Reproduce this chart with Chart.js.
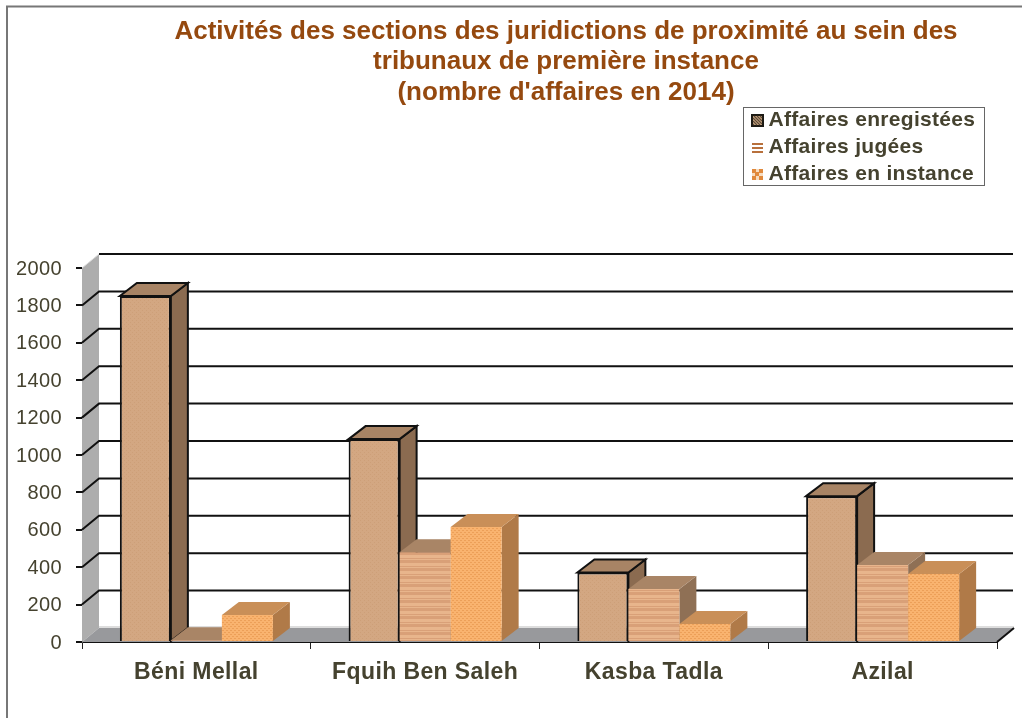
<!DOCTYPE html>
<html><head><meta charset="utf-8">
<style>html,body{margin:0;padding:0;background:#fff}#w{width:1022px;height:718px;position:relative}</style>
<script src="https://cdn.jsdelivr.net/npm/chart.js@4"></script>
</head><body><div id="w"><canvas id="c"></canvas></div>
<script>
const categories = ["Béni Mellal", "Fquih Ben Saleh", "Kasba Tadla", "Azilal"];
const enregistrees = [1850, 1085, 372, 780];
const jugees = [10, 480, 283, 412];
const enInstance = [144, 615, 96, 364];
const seriesNames = ["Affaires enregistées", "Affaires jugées", "Affaires en instance"];
const yTicks = [0, 200, 400, 600, 800, 1000, 1200, 1400, 1600, 1800, 2000];
const titleLines = ["Activités des sections des juridictions de proximité au sein des", "tribunaux de première instance", "(nombre d'affaires en 2014)"];

const FONT = "'Liberation Sans', Arial, sans-serif";
const DX = 17, DY = 14, BAR_DY = 13;

function tile(w, h, draw) {
  const c = document.createElement('canvas'); c.width = w; c.height = h;
  draw(c.getContext('2d')); return c;
}
const ctxMain = document.getElementById('c').getContext('2d');
const fill0 = ctxMain.createPattern(tile(4, 4, g => {
  g.fillStyle = '#d3a782'; g.fillRect(0, 0, 4, 4);
  g.fillStyle = '#cd9f78'; g.fillRect(0, 0, 1, 1); g.fillRect(2, 2, 1, 1);
}), 'repeat');
const fill1 = ctxMain.createPattern(tile(2, 8, g => {
  g.fillStyle = '#e8b58c'; g.fillRect(0, 0, 2, 8);
  g.fillStyle = '#d9a078'; g.fillRect(0, 0, 2, 3); g.fillRect(0, 6, 2, 1);
}), 'repeat');
const fill2 = ctxMain.createPattern(tile(4, 4, g => {
  g.fillStyle = '#f9b36f'; g.fillRect(0, 0, 4, 4);
  g.fillStyle = '#ec9f58'; g.fillRect(0, 0, 2, 1); g.fillRect(2, 2, 2, 1);
}), 'repeat');

const marker0 = tile(13, 13, g => {
  g.fillStyle = '#1c1a14'; g.fillRect(0, 0, 13, 13);
  g.fillStyle = '#d6b08a'; g.fillRect(2, 2, 9, 9);
  g.strokeStyle = '#5c4a38'; g.lineWidth = 1.2;
  for (let i = -8; i < 10; i += 3) { g.beginPath(); g.moveTo(2 + Math.max(i,0), 2 + Math.max(-i,0)); g.lineTo(11 + Math.min(i,0), 11 - Math.max(i,0)); g.stroke(); }
});
const marker1 = tile(13, 11, g => {
  g.fillStyle = '#b8703c'; g.fillRect(1, 1, 11, 2); g.fillRect(1, 5, 11, 2); g.fillRect(1, 9, 11, 2);
});
const marker2 = tile(13, 13, g => {
  g.fillStyle = '#f6dcc0'; g.fillRect(1, 1, 11, 11);
  g.fillStyle = '#e0893c';
  [[1,1],[8,1],[4,4],[1,8],[8,8]].forEach(p => g.fillRect(p[0], p[1], 4, 4));
});
const markers = [marker0, marker1, marker2];

const faces = [
  { top: '#a88465', side: '#8b6b50', edge: '#111' },
  { top: '#a98566', side: '#8f7055', edge: null },
  { top: '#c98f58', side: '#b07a48', edge: null }
];

function poly(ctx, pts, fill, stroke) {
  ctx.beginPath();
  pts.forEach((p, i) => i ? ctx.lineTo(p[0], p[1]) : ctx.moveTo(p[0], p[1]));
  ctx.closePath();
  if (fill) { ctx.fillStyle = fill; ctx.fill(); }
  if (stroke) { ctx.strokeStyle = stroke; ctx.lineWidth = 2; ctx.lineJoin = 'miter'; ctx.stroke(); }
}

function spaced(obj, method, px, dy) {
  if (obj['_sp_' + method]) return;
  obj['_sp_' + method] = true;
  const orig = obj[method];
  obj[method] = function () {
    const ctx = this.ctx, prev = ctx.letterSpacing;
    ctx.save();
    ctx.letterSpacing = px + 'px';
    if (dy) ctx.translate(0, dy);
    const r = orig.apply(this, arguments);
    ctx.restore();
    ctx.letterSpacing = prev;
    return r;
  };
}

const depthPlugin = {
  id: 'depth',
  afterLayout(chart) {
    const t = chart.titleBlock;
    if (t) { t.left = 110; t.right = 1022; }
    const l = chart.legend;
    if (l) {
      const w = l.right - l.left, h = l.bottom - l.top;
      l.left = 751; l.right = l.left + w; l.top = 104; l.bottom = l.top + h;
      spaced(l, 'draw', 0.3);
    }
    spaced(chart.scales.x, 'drawLabels', 0.4);
    spaced(chart.scales.y, 'drawLabels', 0.4, 1);
  },
  beforeDraw(chart) {
    const ctx = chart.ctx;
    ctx.save();
    ctx.strokeStyle = '#777'; ctx.lineWidth = 2;
    ctx.beginPath(); ctx.moveTo(7, 718); ctx.lineTo(7, 6.5); ctx.lineTo(1022, 6.5); ctx.stroke();
    ctx.restore();
  },
  beforeDatasetsDraw(chart) {
    const ctx = chart.ctx, ys = chart.scales.y, xs = chart.scales.x;
    const L = xs.left, R = xs.right, y0 = ys.getPixelForValue(0), yM = ys.getPixelForValue(2000);
    ctx.save();
    poly(ctx, [[L, y0], [L + DX, y0 - DY], [L + DX, yM - DY], [L, yM]], '#adadad');
    poly(ctx, [[L, y0], [L + DX, y0 - DY], [R + DX, y0 - DY], [R, y0]], '#98999c');
    ctx.strokeStyle = '#ddd'; ctx.lineWidth = 2;
    ctx.beginPath(); ctx.moveTo(L + DX, y0 - DY - 1); ctx.lineTo(R + DX, y0 - DY - 1); ctx.stroke();
    ctx.lineWidth = 2; ctx.strokeStyle = '#111';
    yTicks.forEach(v => {
      if (v === 0) return;
      const y = ys.getPixelForValue(v);
      ctx.beginPath();
      ctx.moveTo(L, y);
      if (v === 2000) { ctx.moveTo(L + DX, y - DY); }
      else ctx.lineTo(L + DX, y - DY);
      ctx.lineTo(R + DX - 1, y - DY);
      ctx.stroke();
    });
    ctx.strokeStyle = '#ddd'; ctx.lineWidth = 1;
    ctx.beginPath(); ctx.moveTo(L, yM); ctx.lineTo(L + DX, yM - DY); ctx.stroke();
    ctx.lineWidth = 2; ctx.strokeStyle = '#111';
    ctx.beginPath(); ctx.moveTo(R, y0); ctx.lineTo(R + DX, y0 - DY); ctx.stroke();
    [0, 1, 2].forEach(i => {
      const meta = chart.getDatasetMeta(i), f = faces[i];
      meta.data.forEach(b => {
        const l = b.x - b.width / 2, r = b.x + b.width / 2, t = b.y, bt = b.base;
        poly(ctx, [[r, t], [r + DX, t - BAR_DY], [r + DX, bt - BAR_DY], [r, bt]], f.side, f.edge);
        poly(ctx, [[l, t], [l + DX, t - BAR_DY], [r + DX, t - BAR_DY], [r, t]], f.top, f.edge);
      });
      meta.controller.draw();
    });
    ctx.restore();
    return false;
  },
  afterDraw(chart) {
    const ctx = chart.ctx;
    ctx.save();
    ctx.strokeStyle = '#666'; ctx.lineWidth = 1;
    ctx.strokeRect(743.5, 107.5, 241, 78);
    ctx.restore();
  }
};

new Chart(ctxMain, {
  type: 'bar',
  data: {
    labels: categories,
    datasets: [
      { label: seriesNames[0], data: enregistrees, backgroundColor: fill0, borderColor: '#111', borderWidth: 2 },
      { label: seriesNames[1], data: jugees, backgroundColor: fill1, borderWidth: 0 },
      { label: seriesNames[2], data: enInstance, backgroundColor: fill2, borderWidth: 0 }
    ]
  },
  plugins: [depthPlugin],
  options: {
    responsive: true,
    maintainAspectRatio: false,
    animation: false,
    events: [],
    layout: { padding: { left: 0, right: 25, top: 0, bottom: 0 } },
    datasets: { bar: { categoryPercentage: 0.669, barPercentage: 1 } },
    plugins: {
      tooltip: { enabled: false },
      title: {
        display: true,
        text: titleLines,
        color: '#95490f',
        font: { family: FONT, size: 26, weight: 'bold', lineHeight: 1.183 },
        padding: { top: 16, bottom: 159.75 }
      },
      legend: {
        display: true,
        position: 'chartArea',
        align: 'start',
        labels: {
          usePointStyle: true,
          boxWidth: 1,
          boxHeight: 13,
          padding: 6,
          color: '#45422f',
          font: { family: FONT, size: 21, weight: 'bold' },
          generateLabels: chart => chart.data.datasets.map((d, i) => ({
            text: d.label, pointStyle: markers[i], datasetIndex: i, fontColor: '#45422f', lineWidth: 0, hidden: false
          }))
        }
      }
    },
    scales: {
      x: {
        grid: { display: true, drawOnChartArea: false, drawTicks: true, tickLength: 7, color: '#222', lineWidth: 1 },
        border: { display: true, color: '#111', width: 2 },
        ticks: { color: '#45422f', font: { family: FONT, size: 23, weight: 'bold' }, padding: 10, maxRotation: 0 },
        afterFit(s) { s.height = 76; }
      },
      y: {
        min: 0, max: 2000,
        afterBuildTicks(s) { s.ticks = yTicks.map(v => ({ value: v })); },
        grid: { display: true, drawOnChartArea: false, drawTicks: true, tickLength: 6, color: '#111', lineWidth: 2 },
        border: { display: true, color: '#555', width: 1 },
        ticks: { color: '#45422f', font: { family: FONT, size: 20 }, padding: 14, autoSkip: false, callback: v => String(v) },
        afterFit(s) { s.width = 82; }
      }
    }
  }
});
</script></body></html>
